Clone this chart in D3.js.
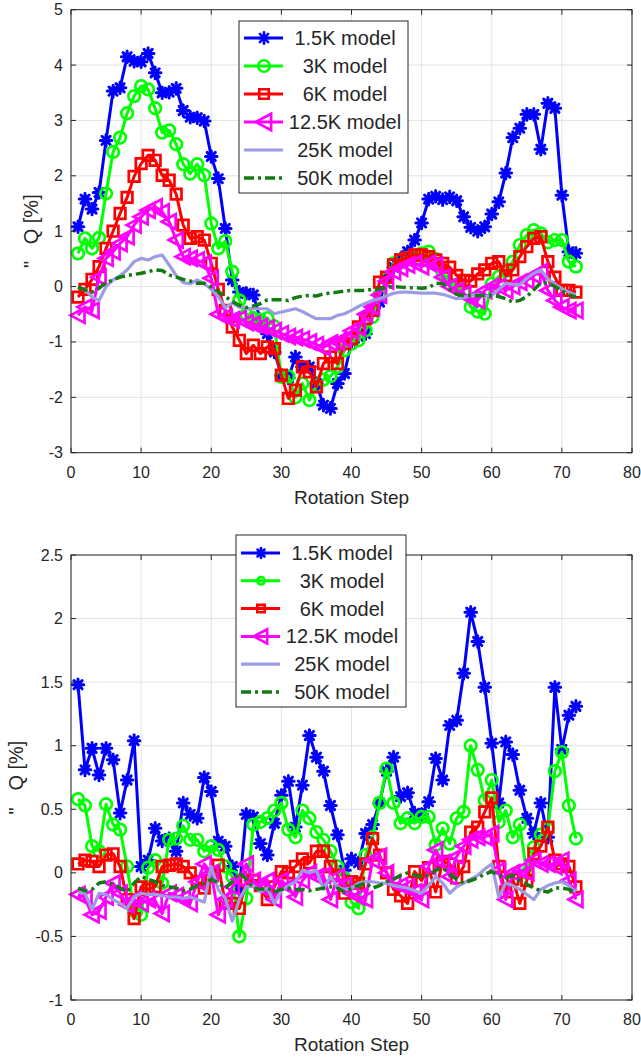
<!DOCTYPE html>
<html><head><meta charset="utf-8">
<script src="https://cdn.jsdelivr.net/npm/d3@7"></script>
<style>
body{margin:0;background:#fff}
svg text{font-family:"Liberation Sans",Arial,Helvetica,sans-serif;fill:#262626}
</style>
</head><body>
<svg id="c" width="641" height="1059"></svg>
<script>
// ---------- DATA ----------
const steps = d3.range(1, 73);
const seriesNames = ["1.5K model", "3K model", "6K model", "12.5K model", "25K model", "50K model"];
const xTicks = [0, 10, 20, 30, 40, 50, 60, 70, 80];
const topYTicks = [-3, -2, -1, 0, 1, 2, 3, 4, 5];
const botYTicks = [-1, -0.5, 0, 0.5, 1, 1.5, 2, 2.5];
const xLabel = "Rotation Step";
const yLabel = "\"   Q [%]";

// top panel
const top15K = [1.08,1.58,1.40,1.70,2.64,3.53,3.59,4.15,4.07,4.06,4.21,3.86,3.50,3.51,3.58,3.18,3.06,3.05,2.99,2.35,1.95,1.05,0.12,-0.10,-0.12,-0.15,-0.60,-0.85,-1.18,-1.60,-1.65,-1.27,-1.45,-1.45,-1.75,-2.14,-2.20,-1.75,-1.57,-1.00,-0.90,-0.85,-0.45,-0.28,0.15,0.35,0.50,0.63,0.84,1.15,1.58,1.63,1.57,1.62,1.55,1.26,1.07,1.00,1.08,1.31,1.53,2.05,2.69,2.86,3.11,3.11,2.48,3.31,3.22,1.65,0.63,0.60];
const top3K = [0.60,0.87,0.69,0.88,1.68,2.43,2.69,3.13,3.44,3.62,3.56,3.22,2.78,2.82,2.57,2.21,2.04,2.21,2.01,1.14,0.69,0.82,0.27,-0.25,-0.50,-0.57,-0.60,-0.57,-0.72,-1.63,-1.62,-2.00,-1.75,-2.05,-1.80,-1.68,-1.62,-1.45,-1.15,-1.03,-0.97,-0.79,-0.55,-0.15,0.15,0.42,0.48,0.52,0.55,0.60,0.63,0.50,0.25,0.05,0.00,-0.10,-0.37,-0.45,-0.49,0.05,0.18,0.28,0.45,0.75,0.93,1.02,0.96,0.80,0.84,0.84,0.45,0.36];
const top6K = [-0.19,-0.05,0.13,0.36,0.69,1.00,1.32,1.61,1.99,2.22,2.37,2.28,2.01,1.92,1.67,1.11,0.87,0.90,0.84,0.42,-0.05,-0.43,-0.73,-0.97,-1.21,-1.06,-1.21,-1.09,-1.12,-1.60,-2.02,-1.87,-1.45,-1.54,-1.81,-1.39,-1.27,-1.39,-1.03,-0.94,-0.73,-0.58,-0.43,0.08,0.17,0.39,0.48,0.52,0.57,0.57,0.54,0.48,0.42,0.35,0.20,0.11,0.10,0.23,0.30,0.42,0.45,0.20,0.30,0.54,0.72,0.87,0.90,0.45,0.17,-0.07,-0.07,-0.10];
const top125K = [-0.52,-0.37,-0.43,0.17,0.51,0.63,0.78,0.90,1.11,1.26,1.38,1.44,1.35,1.17,0.84,0.54,0.51,0.48,0.42,0.15,-0.50,-0.55,-0.60,-0.58,-0.65,-0.68,-0.72,-0.75,-0.80,-0.85,-0.90,-0.92,-0.95,-1.00,-1.05,-1.10,-1.02,-1.00,-0.95,-0.80,-0.75,-0.50,-0.37,-0.15,0.10,0.27,0.33,0.39,0.42,0.36,0.42,0.39,0.17,0.00,-0.07,-0.13,-0.22,-0.25,-0.07,0.00,0.00,-0.07,0.00,0.08,0.11,0.20,0.27,-0.07,-0.25,-0.37,-0.43,-0.43];
const top25K = [-0.01,-0.05,-0.19,-0.25,0.00,0.12,0.20,0.30,0.45,0.51,0.48,0.54,0.57,0.39,0.20,0.07,0.05,0.12,0.05,-0.05,-0.18,-0.38,-0.30,-0.37,-0.39,-0.40,-0.40,-0.40,-0.49,-0.46,-0.43,-0.40,-0.45,-0.52,-0.58,-0.58,-0.58,-0.52,-0.49,-0.43,-0.36,-0.30,-0.25,-0.22,-0.17,-0.12,-0.10,-0.10,-0.11,-0.12,-0.12,-0.12,-0.14,-0.18,-0.22,-0.20,-0.16,-0.14,-0.18,-0.16,-0.05,0.06,0.04,0.03,0.15,0.24,0.30,0.14,0.05,-0.04,-0.10,-0.15];
const top50K = [-0.01,-0.06,-0.10,-0.03,0.07,0.12,0.17,0.20,0.22,0.24,0.27,0.30,0.29,0.21,0.17,0.13,0.10,0.06,0.06,-0.01,-0.09,-0.18,-0.27,-0.34,-0.38,-0.35,-0.31,-0.24,-0.24,-0.24,-0.25,-0.20,-0.17,-0.16,-0.17,-0.13,-0.12,-0.10,-0.08,-0.07,-0.07,-0.07,-0.05,-0.04,-0.01,0.00,-0.01,-0.02,-0.02,-0.03,-0.02,0.06,0.05,-0.05,-0.14,-0.16,-0.16,-0.16,-0.16,-0.16,-0.18,-0.22,-0.28,-0.25,-0.18,-0.06,0.07,0.07,0.00,-0.08,-0.15,-0.19];

// bottom panel
const bot15K = [1.48,0.81,0.98,0.77,0.98,0.89,0.47,0.73,1.04,0.05,0.10,0.35,0.25,0.27,0.17,0.55,0.46,0.43,0.75,0.64,0.25,0.21,0.05,-0.13,0.46,0.44,0.23,0.14,0.39,0.61,0.72,0.36,0.69,1.08,0.91,0.80,0.53,0.30,0.02,0.11,0.08,0.31,0.38,0.55,0.80,0.91,0.60,0.63,0.47,0.46,0.56,0.90,0.73,1.16,1.20,1.57,2.05,1.82,1.46,1.02,0.55,1.03,0.93,0.65,0.43,0.31,0.55,0.28,1.46,0.97,1.24,1.31];
const bot3K = [0.58,0.53,0.21,0.17,0.54,0.38,0.34,0.05,-0.30,-0.33,0.04,0.10,-0.08,0.26,0.27,0.37,0.26,0.26,0.17,0.21,0.18,0.05,-0.03,-0.50,-0.20,0.38,0.40,0.43,0.49,0.55,0.34,0.28,0.49,0.43,0.32,0.26,0.17,0.05,-0.04,-0.23,-0.28,0.14,0.28,0.55,0.82,0.55,0.39,0.43,0.39,0.44,0.44,0.22,0.35,0.23,0.43,0.48,1.00,0.81,0.57,0.73,0.40,0.49,0.28,0.38,0.00,0.20,0.30,0.35,0.80,0.95,0.53,0.27];
const bot6K = [0.07,0.10,0.09,0.05,0.14,0.15,0.05,-0.21,-0.36,-0.11,-0.13,-0.11,0.05,0.06,0.07,0.05,0.00,-0.07,-0.12,-0.03,0.06,-0.24,-0.24,-0.28,-0.06,-0.06,-0.10,-0.21,-0.11,0.01,0.00,0.05,0.11,0.08,0.17,0.17,0.05,-0.02,-0.16,-0.07,-0.08,0.07,0.27,0.14,0.00,-0.13,-0.18,-0.24,0.01,-0.06,0.04,-0.15,0.09,0.07,-0.04,0.05,0.32,0.36,0.48,0.59,0.05,-0.15,-0.05,-0.24,-0.06,0.15,0.21,0.36,0.10,0.07,0.05,-0.11];
const bot125K = [-0.17,-0.20,-0.33,-0.30,-0.19,-0.08,-0.16,-0.25,-0.21,-0.24,-0.21,-0.22,-0.32,-0.16,-0.18,-0.20,-0.24,-0.07,0.07,0.00,-0.33,-0.21,-0.11,-0.05,0.07,-0.06,-0.11,-0.06,-0.21,-0.06,-0.11,-0.19,-0.06,0.00,-0.03,-0.02,-0.21,-0.03,-0.10,-0.16,-0.19,-0.21,0.10,0.13,0.00,-0.08,-0.10,-0.11,-0.15,-0.21,0.05,0.18,0.08,-0.03,0.13,0.21,0.26,0.28,0.28,0.31,0.02,-0.21,0.00,0.02,0.00,0.10,0.07,0.07,0.05,0.10,-0.06,-0.21];
const bot25K = [-0.15,-0.16,-0.29,-0.16,-0.17,-0.21,-0.24,-0.28,-0.19,-0.16,-0.17,-0.17,-0.18,-0.19,-0.19,-0.20,-0.19,-0.21,-0.23,0.05,-0.13,-0.20,-0.38,-0.21,-0.11,-0.10,-0.15,-0.12,-0.24,-0.14,-0.10,-0.07,0.02,0.00,0.02,-0.13,-0.03,-0.11,-0.13,-0.12,-0.08,-0.07,-0.07,-0.08,-0.08,-0.10,-0.11,-0.12,-0.14,-0.16,-0.10,-0.03,-0.08,-0.16,-0.11,-0.08,-0.05,-0.02,0.03,0.07,-0.19,-0.08,-0.10,-0.13,-0.17,-0.21,-0.13,-0.10,-0.08,-0.07,-0.10,-0.15];
const bot50K = [-0.12,-0.14,-0.13,-0.08,-0.07,-0.09,-0.12,-0.15,-0.08,-0.03,-0.05,-0.07,-0.10,-0.11,-0.12,-0.14,-0.13,-0.10,-0.08,-0.05,-0.08,-0.12,-0.07,0.00,-0.05,-0.12,-0.13,-0.12,-0.15,-0.13,-0.12,-0.13,-0.13,-0.14,-0.13,-0.12,-0.11,-0.12,-0.15,-0.12,-0.10,-0.08,-0.12,-0.10,-0.07,-0.05,-0.02,0.00,-0.02,-0.03,-0.02,0.02,0.04,-0.01,-0.05,-0.08,-0.06,-0.04,-0.01,0.01,-0.02,-0.04,-0.02,-0.06,-0.09,-0.12,-0.14,-0.15,-0.12,-0.12,-0.13,-0.16];

// ---------- STYLE ----------
const styles = [
  {color:"#0000ff", marker:"star", width:3},
  {color:"#00ff00", marker:"circle", width:3},
  {color:"#ff0000", marker:"square", width:3},
  {color:"#ff00ff", marker:"triangle", width:3},
  {color:"#9c9ce4", marker:null, width:3.2},
  {color:"#127a12", marker:null, width:3.5, dash:"10,4,3,4"}
];
const markerPath = {
  star: s => `M${-5.8*s},0H${5.8*s}M0,${-5.8*s}V${5.8*s}M${-4.1*s},${-4.1*s}L${4.1*s},${4.1*s}M${-4.1*s},${4.1*s}L${4.1*s},${-4.1*s}`,
  circle: s => `M${5.8*s},0A${5.8*s},${5.8*s} 0 1,1 ${-5.8*s},0A${5.8*s},${5.8*s} 0 1,1 ${5.8*s},0Z`,
  square: s => `M${-5.3*s},${-5.3*s}H${5.3*s}V${5.3*s}H${-5.3*s}Z`,
  triangle: s => `M${-7.5*s},0L${6.5*s},${-7.5*s}L${6.5*s},${7.5*s}Z`
};

const svg = d3.select("#c");
svg.append("rect").attr("width",641).attr("height",1059).attr("fill","#fff");

function panel(cfg) {
  const x = d3.scaleLinear().domain([0, 80]).range([cfg.left, cfg.right]);
  const y = d3.scaleLinear().domain(cfg.yDomain).range([cfg.bottom, cfg.top]);
  const g = svg.append("g");
  // grid
  g.selectAll(".gx").data(xTicks).join("line")
    .attr("x1", d => x(d)).attr("x2", d => x(d)).attr("y1", cfg.top).attr("y2", cfg.bottom)
    .attr("stroke", "#e3e3e3").attr("stroke-width", 1);
  g.selectAll(".gy").data(cfg.yTicks).join("line")
    .attr("y1", d => y(d)).attr("y2", d => y(d)).attr("x1", cfg.left).attr("x2", cfg.right)
    .attr("stroke", "#e3e3e3").attr("stroke-width", 1);
  // series
  const line = d3.line().x((d, i) => x(steps[i])).y(d => y(d));
  cfg.series.forEach((vals, k) => {
    const st = styles[k];
    const sg = g.append("g");
    sg.append("path").attr("d", line(vals)).attr("fill", "none")
      .attr("stroke", st.color).attr("stroke-width", st.width)
      .attr("stroke-linejoin", "round")
      .attr("stroke-dasharray", st.dash || null);
    if (st.marker) {
      sg.selectAll("path.m").data(vals).join("path").attr("class", "m")
        .attr("transform", (d, i) => `translate(${x(steps[i])},${y(d)})`)
        .attr("d", markerPath[st.marker](1))
        .attr("fill", "none").attr("stroke", st.color)
        .attr("stroke-linecap", "round")
        .attr("stroke-width", st.marker === "star" ? 3 : 2.7);
    }
  });
  // frame
  g.append("rect").attr("x", cfg.left).attr("y", cfg.top)
    .attr("width", cfg.right - cfg.left).attr("height", cfg.bottom - cfg.top)
    .attr("fill", "none").attr("stroke", "#262626").attr("stroke-width", 1);
  // ticks (inside, all sides)
  const tl = 5;
  g.selectAll(".tx").data(xTicks).join("path")
    .attr("d", d => `M${x(d)},${cfg.bottom}v${-tl}M${x(d)},${cfg.top}v${tl}`)
    .attr("stroke", "#262626");
  g.selectAll(".ty").data(cfg.yTicks).join("path")
    .attr("d", d => `M${cfg.left},${y(d)}h${tl}M${cfg.right},${y(d)}h${-tl}`)
    .attr("stroke", "#262626");
  // tick labels
  g.selectAll(".lx").data(xTicks).join("text")
    .attr("x", d => x(d)).attr("y", cfg.bottom + 25)
    .attr("text-anchor", "middle").attr("font-size", 16).text(d => d);
  g.selectAll(".ly").data(cfg.yTicks).join("text")
    .attr("x", cfg.left - 8).attr("y", d => y(d) + 5.5)
    .attr("text-anchor", "end").attr("font-size", 16).text(d => d);
  // axis labels
  g.append("text").attr("x", (cfg.left + cfg.right) / 2).attr("y", cfg.bottom + 51)
    .attr("text-anchor", "middle").attr("font-size", 19).text(xLabel);
  g.append("text").attr("transform", `translate(${cfg.ylabX},${(cfg.top + cfg.bottom) / 2}) rotate(-90)`)
    .attr("text-anchor", "middle").attr("font-size", 20).style("white-space", "pre").text(yLabel);
  // legend
  const L = cfg.legend;
  const lg = g.append("g");
  lg.append("rect").attr("x", L.x).attr("y", L.y).attr("width", L.w).attr("height", L.h)
    .attr("fill", "#fff").attr("stroke", "#262626").attr("stroke-width", 1);
  seriesNames.forEach((name, k) => {
    const st = styles[k];
    const cy = L.y + L.first + k * L.step;
    lg.append("line").attr("x1", L.x + 5).attr("x2", L.x + 44).attr("y1", cy).attr("y2", cy)
      .attr("stroke", st.color).attr("stroke-width", st.width)
      .attr("stroke-dasharray", st.dash || null);
    if (st.marker) {
      lg.append("path").attr("transform", `translate(${L.x + 25},${cy})`)
        .attr("d", markerPath[st.marker](L.ms[st.marker]))
        .attr("fill", "none").attr("stroke", st.color).attr("stroke-width", 2.6)
        .attr("stroke-linecap", "round");
    }
    lg.append("text").attr("x", L.x + L.tx).attr("y", cy + 7)
      .attr("text-anchor", "middle").attr("font-size", 20).text(name);
  });
}

panel({
  left: 71, right: 632, top: 9.7, bottom: 452.7,
  yDomain: [-3, 5], yTicks: topYTicks, ylabX: 38,
  series: [top15K, top3K, top6K, top125K, top25K, top50K],
  legend: {x: 239, y: 21, w: 169, h: 172, first: 17, step: 28, tx: 106,
           ms: {star: 1.0, circle: 1.0, square: 0.9, triangle: 1.1}}
});
panel({
  left: 71, right: 632, top: 555, bottom: 1000,
  yDomain: [-1, 2.5], yTicks: botYTicks, ylabX: 23,
  series: [bot15K, bot3K, bot6K, bot125K, bot25K, bot50K],
  legend: {x: 236, y: 535, w: 170, h: 172, first: 18, step: 27.8, tx: 106,
           ms: {star: 0.85, circle: 0.65, square: 0.7, triangle: 0.95}}
});
</script>
</body></html>
